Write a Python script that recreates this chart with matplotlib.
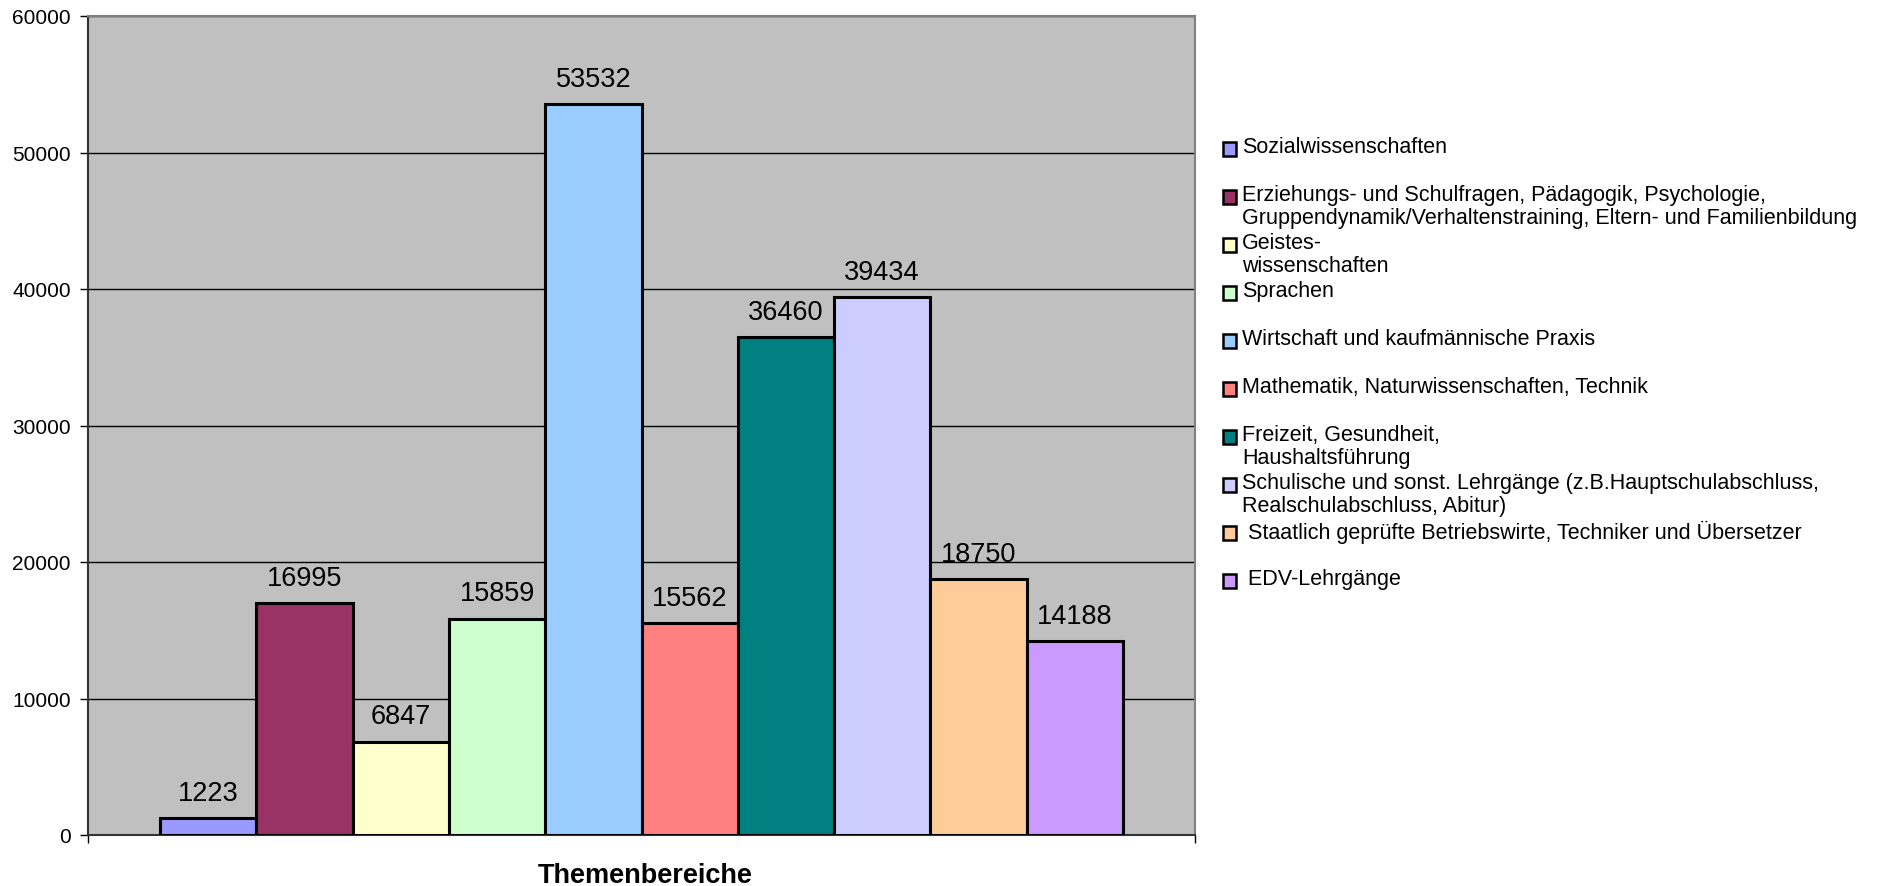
import matplotlib
matplotlib.use("Agg")
import matplotlib.pyplot as plt
from matplotlib.patches import Rectangle

plt.rcParams['font.family'] = ['Liberation Sans', 'DejaVu Sans']

categories = [
    "Sozialwissenschaften",
    "Erziehungs- und Schulfragen, Pädagogik, Psychologie,\nGruppendynamik/Verhaltenstraining, Eltern- und Familienbildung",
    "Geistes-\nwissenschaften",
    "Sprachen",
    "Wirtschaft und kaufmännische Praxis",
    "Mathematik, Naturwissenschaften, Technik",
    "Freizeit, Gesundheit,\nHaushaltsführung",
    "Schulische und sonst. Lehrgänge (z.B.Hauptschulabschluss,\nRealschulabschluss, Abitur)",
    " Staatlich geprüfte Betriebswirte, Techniker und Übersetzer",
    " EDV-Lehrgänge",
]
values = [1223, 16995, 6847, 15859, 53532, 15562, 36460, 39434, 18750, 14188]
colors = ["#9999FF", "#993366", "#FFFFCC", "#CCFFCC", "#99CCFF",
          "#FF8080", "#008080", "#CCCCFF", "#FFCC99", "#CC99FF"]
yticks = [0, 10000, 20000, 30000, 40000, 50000, 60000]
xlabel = "Themenbereiche"

W, H = 1880, 887
fig = plt.figure(figsize=(W / 100, H / 100), dpi=100)
ax = fig.add_axes([88 / W, 1 - 836 / H, (1195 - 88) / W, (836 - 17) / H])
ax.set_facecolor("#C0C0C0")
ax.set_axisbelow(True)

n = len(values)
xs = [i - (n - 1) / 2 for i in range(n)]
bars = ax.bar(xs, values, width=1.0, color=colors, edgecolor="black", linewidth=2.2, zorder=3)
for x, v in zip(xs, values):
    ax.annotate(str(v), (x, v), xytext=(0, 13), textcoords="offset points",
                ha="center", va="baseline", fontsize=19.5, zorder=4)

ax.set_xlim(-(n / 2 + 0.75), n / 2 + 0.75)
ax.set_ylim(0, 60000)
ax.set_yticks(yticks)
ax.set_yticklabels([str(t) for t in yticks])
ax.set_xticks([-(n / 2 + 0.75), n / 2 + 0.75])
ax.set_xticklabels(["", ""])
ax.tick_params(axis="both", direction="out", length=5.5, width=1, color="black", labelsize=15)
ax.tick_params(axis="y", pad=7)
ax.yaxis.grid(True, color="black", linewidth=1.0, zorder=0)
for s in ["top", "right"]:
    ax.spines[s].set_color("#808080")
    ax.spines[s].set_linewidth(1.5)
for s in ["left", "bottom"]:
    ax.spines[s].set_color("#333333")
    ax.spines[s].set_linewidth(1.5)

fig.text(645 / W, 1 - 876 / H, xlabel, ha="center", va="center", fontsize=19.5, fontweight="bold")

# legend drawn manually (entries in fixed slots, marker aligned with first line)
y0 = 150
slot = 48
for i, (lab, col) in enumerate(zip(categories, colors)):
    yc = y0 + i * slot
    fig.patches.append(Rectangle((1223 / W, 1 - (yc + 7) / H), 13 / W, 14 / H,
                                 transform=fig.transFigure, facecolor=col,
                                 edgecolor="black", linewidth=1.8))
    fig.text(1242 / W, 1 - (yc - 13) / H, lab, ha="left", va="top",
             fontsize=15.5, linespacing=1.12)

fig.savefig("out.png", dpi=100)
